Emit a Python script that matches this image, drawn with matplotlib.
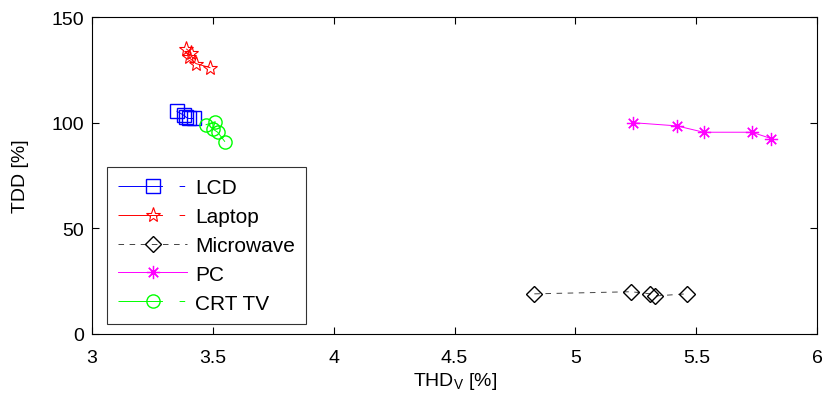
import matplotlib
matplotlib.use('Agg')
import matplotlib.pyplot as plt

plt.rcParams['font.family'] = ['Liberation Sans', 'DejaVu Sans']
plt.rcParams['lines.scale_dashes'] = False

# Data
lcd_x = [3.35, 3.38, 3.39, 3.40, 3.42]
lcd_y = [105.5, 103.5, 102.5, 102, 102]

laptop_x = [3.39, 3.41, 3.40, 3.43, 3.49]
laptop_y = [135, 133, 131, 128, 126]

micro_x = [4.83, 5.23, 5.31, 5.33, 5.46]
micro_y = [19, 20, 19, 18, 19]

pc_x = [5.24, 5.42, 5.53, 5.73, 5.81]
pc_y = [100, 98.5, 95.5, 95.5, 92.5]

crt_x = [3.47, 3.51, 3.50, 3.52, 3.55]
crt_y = [99, 100.5, 97, 95.5, 91]

fig = plt.figure(figsize=(8.25, 4.02), dpi=100)
ax = fig.add_axes([0.1115, 0.1667, 0.879, 0.7883])

lw = 0.7
ms = 9.5
dashdot = (32, 12, 4, 12)
ax.plot(lcd_x, lcd_y, color='#0000ff', dashes=dashdot, linewidth=lw,
        marker='s', markersize=ms, markerfacecolor='none', label='LCD')
ax.plot(laptop_x, laptop_y, color='#ff0000', dashes=dashdot, linewidth=lw,
        marker='*', markersize=ms + 1.5, markerfacecolor='none', markeredgewidth=0.8,
        label='Laptop')
ax.plot(micro_x, micro_y, color='#444444', dashes=(4, 4), linewidth=lw,
        marker='D', markersize=8, markerfacecolor='none',
        markeredgecolor='black', label='Microwave')
ax.plot(pc_x, pc_y, color='#ff00ff', linestyle='-', linewidth=lw,
        marker=(8, 2, 0), markersize=ms, markeredgewidth=0.9, label='PC')
ax.plot(crt_x, crt_y, color='#00ff00', dashes=dashdot, linewidth=lw,
        marker='o', markersize=ms, markerfacecolor='none', label='CRT TV')

ax.set_xlim(3, 6)
ax.set_ylim(0, 150)
ax.set_xticks([3, 3.5, 4, 4.5, 5, 5.5, 6])
ax.set_xticklabels(['3', '3.5', '4', '4.5', '5', '5.5', '6'])
ax.set_yticks([0, 50, 100, 150])
ax.tick_params(direction='in', top=True, right=True, labelsize=14, length=5)
ax.tick_params(axis='x', pad=11)
ax.tick_params(axis='y', pad=6)
ax.set_xlabel('THD$_\\mathregular{V}$ [%]', fontsize=14, labelpad=3)
ax.set_ylabel('TDD [%]', fontsize=14, labelpad=16)

leg = ax.legend(loc='lower left', bbox_to_anchor=(0.0207, 0.0315), borderaxespad=0,
                fontsize=15, fancybox=False, edgecolor='black', handlelength=3.27,
                borderpad=0.55, labelspacing=0.47, handletextpad=0.4)
leg.get_frame().set_linewidth(0.8)

fig.savefig('out.png', dpi=100)
